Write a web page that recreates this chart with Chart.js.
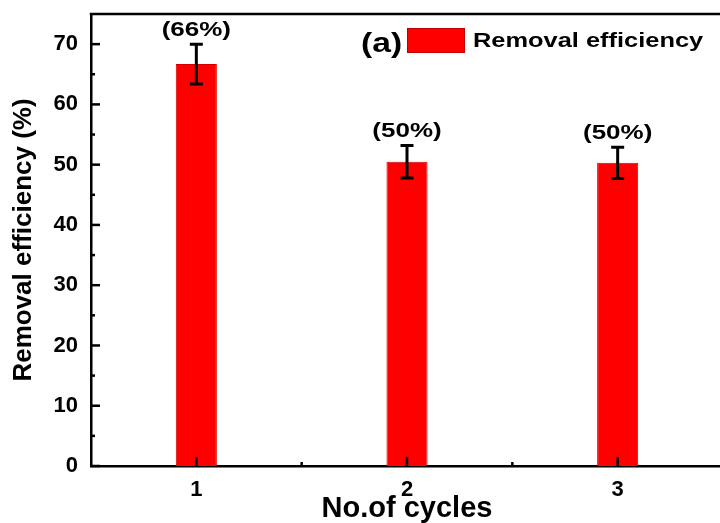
<!DOCTYPE html>
<html>
<head>
<meta charset="utf-8">
<script src="https://cdn.jsdelivr.net/npm/chart.js@4.4.1/dist/chart.umd.min.js"></script>
<style>
html,body{margin:0;padding:0;background:#fff;overflow:hidden;}
#wrap{width:730px;height:523px;position:relative;}
</style>
</head>
<body>
<div id="wrap"><canvas id="c" width="730" height="523"></canvas></div>
<script>
// ---- data ----
const categories = ['1', '2', '3'];
const efficiency = [66.7, 50.5, 50.3];
const errors = [3.3, 2.7, 2.6];
const percentLabels = ['(66%)', '(50%)', '(50%)'];
const seriesName = 'Removal efficiency';
const panelTag = '(a)';
const yTicks = [0, 10, 20, 30, 40, 50, 60, 70];

const FONT = '"Liberation Sans", Arial, sans-serif';

function wideText(ctx, text, x, y, sx, align) {
  ctx.save();
  ctx.translate(x, y);
  ctx.scale(sx, 1);
  ctx.textAlign = align;
  ctx.fillText(text, 0, 0);
  ctx.restore();
}

const extras = {
  id: 'extras',
  afterDatasetsDraw(chart) {
    const ctx = chart.ctx;
    const xs = chart.scales.x, ys = chart.scales.y;
    const area = chart.chartArea;
    const meta = chart.getDatasetMeta(0);
    ctx.save();
    ctx.strokeStyle = '#000';
    ctx.lineCap = 'butt';
    // top frame line
    ctx.lineWidth = 2.5;
    ctx.beginPath();
    ctx.moveTo(area.left - 1.25, area.top);
    ctx.lineTo(area.right, area.top);
    ctx.stroke();
    // inward y ticks
    for (let v = 0; v <= 70; v += 5) {
      const y = ys.getPixelForValue(v);
      const len = (v % 10 === 0) ? 9 : 4;
      ctx.beginPath();
      ctx.moveTo(area.left, y);
      ctx.lineTo(area.left + len, y);
      ctx.stroke();
    }
    // inward x ticks (major at categories, minor between)
    meta.data.forEach((bar, i) => {
      const x = xs.getPixelForValue(i);
      ctx.beginPath();
      ctx.moveTo(x, area.bottom);
      ctx.lineTo(x, area.bottom - 9);
      ctx.stroke();
      if (i < meta.data.length - 1) {
        const xm = (x + xs.getPixelForValue(i + 1)) / 2;
        ctx.beginPath();
        ctx.moveTo(xm, area.bottom);
        ctx.lineTo(xm, area.bottom - 4);
        ctx.stroke();
      }
    });
    // error bars + percent labels
    ctx.lineWidth = 3;
    ctx.fillStyle = '#000';
    ctx.font = 'bold 20px ' + FONT;
    ctx.textBaseline = 'bottom';
    meta.data.forEach((bar, i) => {
      const x = bar.x;
      const yt = ys.getPixelForValue(efficiency[i] + errors[i]);
      const yb = ys.getPixelForValue(efficiency[i] - errors[i]);
      ctx.beginPath();
      ctx.moveTo(x, yt); ctx.lineTo(x, yb);
      ctx.moveTo(x - 6.5, yt); ctx.lineTo(x + 6.5, yt);
      ctx.moveTo(x - 6.5, yb); ctx.lineTo(x + 6.5, yb);
      ctx.stroke();
      wideText(ctx, percentLabels[i], x, yt - 4, 1.3, 'center');
    });
    // legend
    ctx.textBaseline = 'alphabetic';
    ctx.font = 'bold 28px ' + FONT;
    wideText(ctx, panelTag, 361, 52, 1.2, 'left');
    ctx.fillStyle = '#ff0000';
    ctx.fillRect(407, 28, 58, 25);
    ctx.strokeStyle = '#c00000';
    ctx.lineWidth = 1;
    ctx.strokeRect(407.5, 28.5, 57, 24);
    ctx.fillStyle = '#000';
    ctx.font = 'bold 21px ' + FONT;
    ctx.textBaseline = 'middle';
    wideText(ctx, seriesName, 473, 41, 1.21, 'left');
    ctx.restore();
  }
};

new Chart(document.getElementById('c'), {
  type: 'bar',
  data: {
    labels: categories,
    datasets: [{
      label: seriesName,
      data: efficiency,
      backgroundColor: '#ff0000',
      borderColor: '#d40000',
      borderWidth: 1,
      barPercentage: 0.195,
      categoryPercentage: 1
    }]
  },
  options: {
    responsive: false,
    animation: false,
    layout: { padding: { top: 14, right: 7, left: 0, bottom: 0 } },
    plugins: { legend: { display: false }, tooltip: { enabled: false } },
    scales: {
      x: {
        offset: true,
        grid: { display: false, drawTicks: false },
        border: { display: true, color: '#000', width: 2.5 },
        ticks: { color: '#000', font: { family: FONT, size: 22, weight: 'bold' }, padding: 11 },
        title: { display: true, text: 'No.of cycles', color: '#000', font: { family: FONT, size: 29, weight: 'bold', lineHeight: 1.0 }, padding: { top: 0, bottom: 0 } },
        afterFit: s => { s.height = 57; s.paddingLeft = 0; s.paddingRight = 0; }
      },
      y: {
        min: 0, max: 75,
        grid: { display: false, drawTicks: false },
        border: { display: true, color: '#000', width: 2.5 },
        afterBuildTicks: s => { s.ticks = yTicks.map(v => ({ value: v })); },
        ticks: { color: '#000', font: { family: FONT, size: 22, weight: 'bold' }, padding: 13, includeBounds: false },
        title: { display: true, text: 'Removal efficiency (%)', color: '#000', font: { family: FONT, size: 26, weight: 'bold', lineHeight: 1.0 }, padding: { top: 11, bottom: 0 } },
        afterFit: s => { s.width = 91; s.paddingTop = 0; s.paddingBottom = 0; }
      }
    }
  },
  plugins: [extras]
});
</script>
</body>
</html>
